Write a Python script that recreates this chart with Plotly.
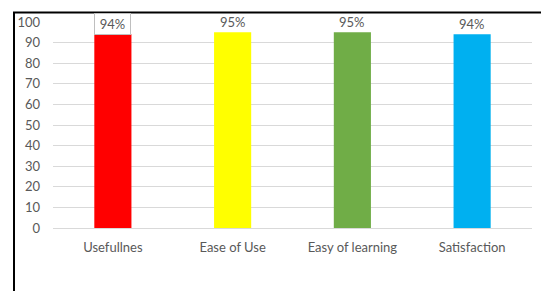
import plotly.graph_objects as go

categories = ["Usefullnes", "Ease of Use", "Easy of learning", "Satisfaction"]
values = [94, 95, 95, 94]
colors = ["#FF0000", "#FFFF00", "#70AD47", "#00B0F0"]
tick_vals = list(range(0, 101, 10))

W, H = 541, 291
ML, MR, MT, MB = 53, 9, 22, 63
pw, ph = W - ML - MR, H - MT - MB

def px_x(x):
    return (x - ML) / pw

def px_y(y):
    return (H - MB - y) / ph

fig = go.Figure()
fig.add_trace(go.Bar(
    x=categories, y=values, marker=dict(color=colors, line=dict(width=0)),
    width=0.31, hoverinfo="skip",
))

annotations = []
for i, (c, v) in enumerate(zip(categories, values)):
    a = dict(x=c, y=v, xref="x", yref="y", text=f"{v}%", showarrow=False,
             yanchor="bottom", yshift=0,
             font=dict(family="Lato, Open Sans, sans-serif", size=13, color="#595959"))
    if i == 0:
        a.update(bordercolor="#BFBFBF", borderwidth=1, borderpad=2, width=31, yshift=-1)
    annotations.append(a)

fig.update_layout(
    width=W, height=H,
    margin=dict(l=ML, r=MR, t=MT, b=MB, pad=0),
    paper_bgcolor="white", plot_bgcolor="white",
    showlegend=False, bargap=0.69,
    font=dict(family="Lato, Open Sans, sans-serif", size=13, color="#595959"),
    xaxis=dict(showgrid=False, showline=False, ticks="", tickfont=dict(size=13, color="#595959"),
               ticklabelstandoff=10, fixedrange=True),
    yaxis=dict(range=[0, 100], tickvals=tick_vals, showgrid=True, gridcolor="#D9D9D9",
               gridwidth=1, zeroline=True, zerolinecolor="#D9D9D9", zerolinewidth=1,
               ticks="", ticklabelstandoff=12, tickfont=dict(size=13, color="#595959"),
               fixedrange=True),
    annotations=annotations,
    shapes=[
        dict(type="line", xref="paper", yref="paper", x0=px_x(14), x1=px_x(14),
             y0=px_y(12), y1=px_y(292), line=dict(color="black", width=2)),
        dict(type="line", xref="paper", yref="paper", x0=px_x(13), x1=px_x(542),
             y0=px_y(12.5), y1=px_y(12.5), line=dict(color="black", width=2)),
    ],
)

fig.write_html("out.html", config={"displayModeBar": False, "staticPlot": True},
               post_script="document.body.style.margin='0';document.body.style.overflow='hidden';")
